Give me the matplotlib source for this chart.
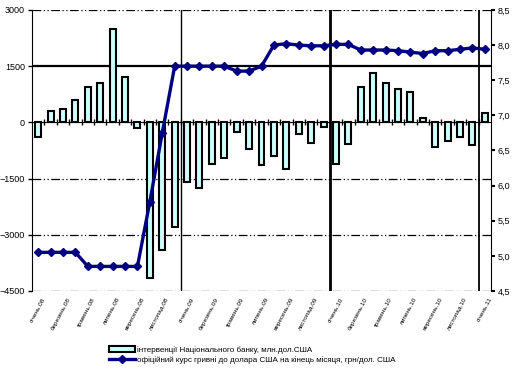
import numpy as np
import matplotlib.pyplot as plt
from matplotlib.lines import Line2D
from matplotlib.patches import Patch

plt.rcParams['font.family'] = ['Liberation Sans', 'DejaVu Sans']

# monthly data, Jan 2008 .. Jan 2011
interventions = [-400, 300, 350, 600, 950, 1050, 2500, 1200, -150, -4150,
                 -3400, -2800, -1600, -1750, -1100, -950, -250, -700, -1150, -900,
                 -1250, -300, -550, -120, -1100, -580, 950, 1320, 1050, 880,
                 820, 130, -670, -500, -380, -600, 260]
rate = [5.05, 5.05, 5.05, 5.05, 4.85, 4.85, 4.85, 4.85, 4.85, 5.77,
        6.75, 7.70, 7.70, 7.70, 7.70, 7.70, 7.63, 7.63, 7.70, 8.00,
        8.02, 8.00, 7.99, 7.99, 8.01, 8.01, 7.93, 7.93, 7.93, 7.92,
        7.90, 7.88, 7.92, 7.92, 7.94, 7.96, 7.94]
months = ['січень', 'лютий', 'березень', 'квітень', 'травень', 'червень',
          'липень', 'серпень', 'вересень', 'жовтень', 'листопад', 'грудень']
labels = [f'{months[i % 12]}.{8 + i // 12:02d}' for i in range(len(rate))]

x = np.arange(len(rate))

fig = plt.figure(figsize=(5.12, 3.69), dpi=100)
ax = fig.add_axes([0.0625, 0.2114, 0.8965, 0.7616])

ax.bar(x, interventions, width=0.48, color='#ccffff', edgecolor='black', linewidth=1.5, zorder=3)
ax.set_xlim(-0.5, len(x) - 0.5)
ax.set_ylim(-4500, 3000)
ax.set_yticks(np.arange(-4500, 3001, 1500))
ax.tick_params(axis='y', labelsize=6.5, length=3, width=1, pad=2)

# category axis at zero
ax.spines['bottom'].set_position(('data', 0))
ax.spines['top'].set_visible(False)
ax.spines['right'].set_visible(False)
ax.set_xticks(x[:-1] + 0.5)
ax.set_xticklabels([])
ax.tick_params(axis='x', direction='inout', length=5, width=1)

# gridlines
dd = (0, (7, 2, 1, 2, 1, 2))
for yv in [3000, -1500, -3000, -4500]:
    ax.axhline(yv, color='black', lw=0.9, linestyle=dd, zorder=1)
ax.axhline(1500, color='black', lw=1.6, zorder=1)
ax.axvline(11.5, color='black', lw=1.0, zorder=1)
ax.axvline(23.5, color='black', lw=2.0, zorder=1)
ax.axvline(35.5, color='black', lw=1.3, zorder=1)

# month labels below the plot
for i in range(0, len(x), 2):
    ax.text(i + 0.3, -4650, labels[i], rotation=62, ha='right', va='top',
            fontsize=4.6, rotation_mode='anchor')

ax2 = ax.twinx()
ax2.set_position(ax.get_position())
ax2.plot(x, rate, color='#000080', lw=2.4, marker='D', markersize=4, zorder=5)
ax2.set_ylim(4.5, 8.5)
ax2.set_yticks(np.arange(4.5, 8.51, 0.5))
ax2.set_yticklabels([f'{v:.1f}'.replace('.', ',') for v in np.arange(4.5, 8.51, 0.5)])
ax2.tick_params(axis='y', labelsize=6.5, length=3, width=1.5, pad=2)
ax2.spines['top'].set_visible(False)
ax2.spines['left'].set_visible(False)
ax2.spines['bottom'].set_visible(False)

handles = [Patch(facecolor='#ccffff', edgecolor='black', linewidth=1.5),
           Line2D([], [], color='#000080', lw=2.4, marker='D', markersize=4)]
fig.legend(handles,
           ['інтервенції Національного банку, млн.дол.США',
            'офіційний курс гривні до долара США на кінець місяця, грн/дол. США'],
           loc='center left', bbox_to_anchor=(0.205, 0.038), fontsize=5.8,
           frameon=False, handlelength=3.2, handletextpad=0.3, labelspacing=0.35,
           borderpad=0)

fig.savefig('out.png', dpi=100)
